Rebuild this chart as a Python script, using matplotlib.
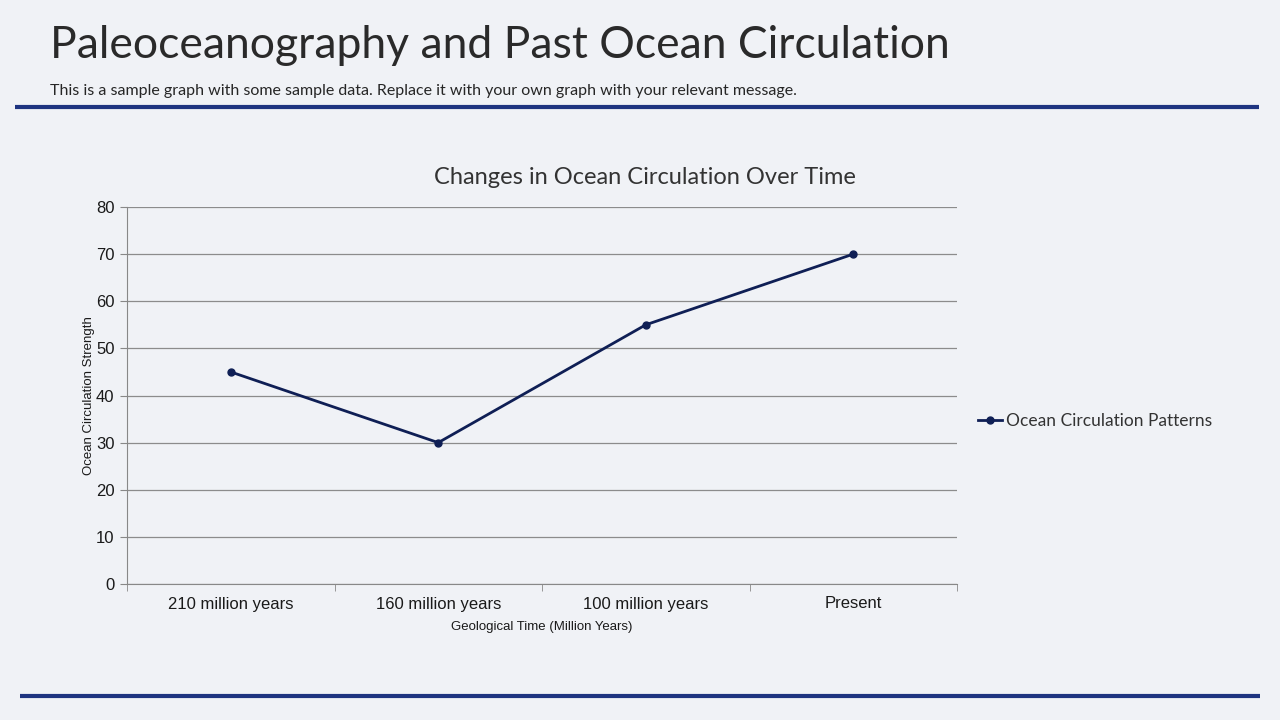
import matplotlib.pyplot as plt
from matplotlib.lines import Line2D

categories = ["210 million years", "160 million years", "100 million years", "Present"]
strength = [45, 30, 55, 70]
series_name = "Ocean Circulation Patterns"

BG = "#F0F2F6"
NAVY = "#0F1F55"
BAR = "#1E3480"

fig = plt.figure(figsize=(12.8, 7.2), dpi=100, facecolor=BG)

# header
fig.text(50 / 1280, 1 - 46 / 720, "Paleoceanography and Past Ocean Circulation",
         fontsize=32, family="Lato", color="#2a2a2a", va="center", ha="left")
fig.text(50 / 1280, 1 - 91 / 720,
         "This is a sample graph with some sample data. Replace it with your own graph with your relevant message.",
         fontsize=11.5, family="Lato", color="#262626", va="center", ha="left")
fig.add_artist(Line2D([15 / 1280, 1259 / 1280], [1 - 107 / 720] * 2, color=BAR, lw=3,
                      solid_capstyle="butt"))
fig.add_artist(Line2D([20 / 1280, 1260 / 1280], [1 - 696 / 720] * 2, color=BAR, lw=3,
                      solid_capstyle="butt"))

ax = fig.add_axes([127 / 1280, 1 - 584 / 720, 830 / 1280, 377 / 720])
ax.set_facecolor(BG)
x = list(range(len(categories)))
ax.plot(x, strength, color=NAVY, lw=2, marker="o", markersize=5, label=series_name)

ax.set_xlim(-0.5, len(categories) - 0.5)
ax.set_ylim(0, 80)
ax.set_yticks(range(0, 81, 10))
ax.set_xticks(x)
ax.set_xticklabels(categories)
ax.set_xticks([i - 0.5 for i in range(len(categories) + 1)], minor=True)
ax.tick_params(axis="x", which="major", length=0, pad=9)
ax.tick_params(axis="x", which="minor", length=5, color="#888888")
ax.tick_params(axis="y", length=5, color="#888888", pad=4)
for lab in ax.get_xticklabels() + ax.get_yticklabels():
    lab.set_fontfamily("Liberation Sans")
    lab.set_fontsize(12)
    lab.set_color("#1a1a1a")

ax.grid(axis="y", color="#8c8c8c", lw=0.9)
ax.set_axisbelow(True)
for s in ["top", "right"]:
    ax.spines[s].set_visible(False)
ax.spines["left"].set_color("#888888")
ax.spines["bottom"].set_color("#888888")

ax.set_xlabel("Geological Time (Million Years)", fontsize=9.5, family="Liberation Sans",
              color="#1a1a1a", labelpad=7)
ax.set_ylabel("Ocean Circulation Strength", fontsize=9.5, family="Liberation Sans",
              color="#1a1a1a", labelpad=0.5)
fig.text(645 / 1280, 1 - 177 / 720, "Changes in Ocean Circulation Over Time", fontsize=17,
         family="Lato", color="#333333", ha="center", va="center")

leg = ax.legend(loc="center left", bbox_to_anchor=(1.0066, 0.432), frameon=False,
                prop={"family": "Lato", "size": 12.5}, handlelength=1.38, handletextpad=0.23)
for t in leg.get_texts():
    t.set_color("#333333")

fig.savefig("out.png", dpi=100, facecolor=BG)
